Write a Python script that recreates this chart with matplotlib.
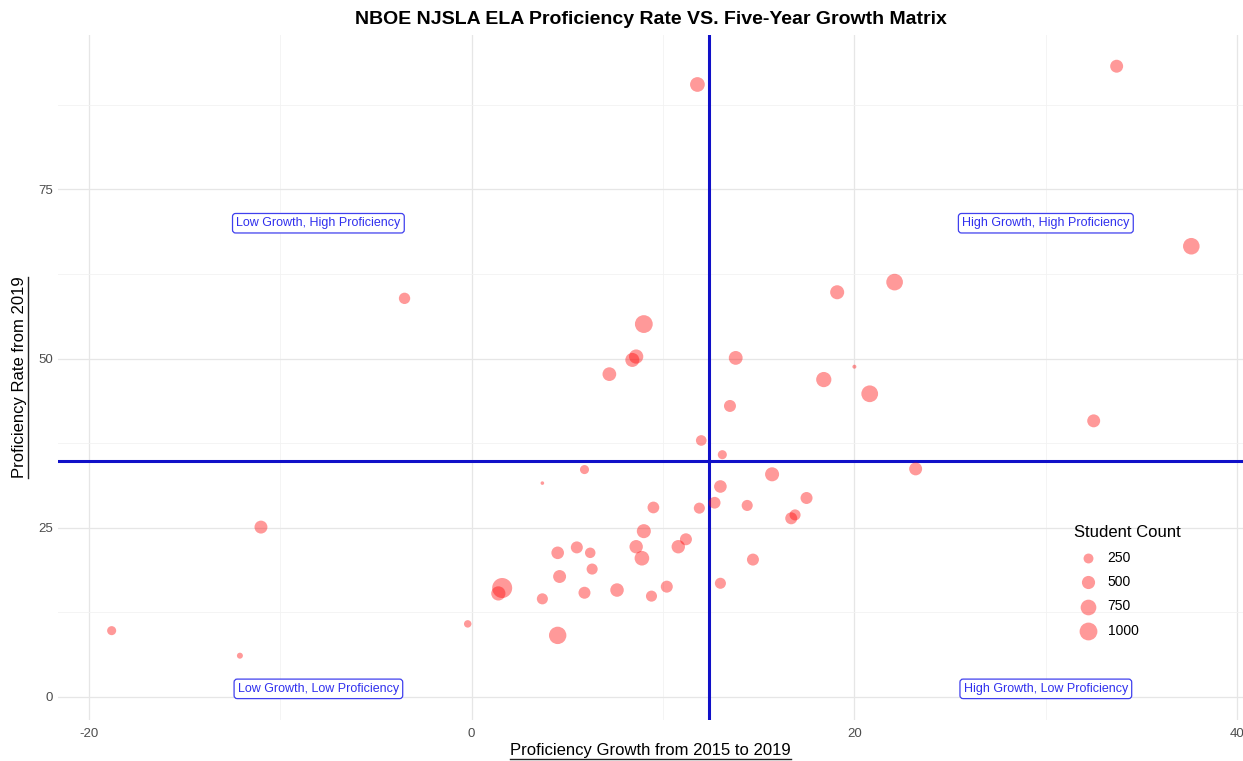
import numpy as np
import matplotlib.pyplot as plt
from matplotlib.lines import Line2D

# data
growth = [33.7, 11.8, 37.6, 22.1, 19.1, -3.5, 9.0, 8.6, 8.4, 7.2,
          13.8, 20.0, 18.4, 20.8, 13.5, 32.5, 12.0, 13.1, 5.9, 3.7,
          15.7, 23.2, 13.0, 12.7, 14.4, 9.5, 11.9, 16.7, 16.9, 9.0,
          11.2, 10.8, 8.6, 8.9, 5.5, 4.5, 6.2, 6.3, 4.6, 14.7,
          13.0, 10.2, 7.6, 5.9, 9.4, 3.7, 1.6, 1.4, -0.2, 4.5,
          17.5, -11.0, -18.8, -12.1]
proficiency = [93.2, 90.5, 66.6, 61.3, 59.8, 58.9, 55.1, 50.3, 49.8, 47.7,
               50.1, 48.8, 46.9, 44.8, 43.0, 40.8, 37.9, 35.8, 33.6, 31.6,
               32.9, 33.7, 31.1, 28.7, 28.3, 28.0, 27.9, 26.4, 26.9, 24.5,
               23.3, 22.2, 22.2, 20.5, 22.1, 21.3, 21.3, 18.9, 17.8, 20.3,
               16.8, 16.3, 15.8, 15.4, 14.9, 14.5, 16.1, 15.3, 10.8, 9.1,
               29.4, 25.1, 9.8, 6.1]
student_count = [480, 650, 850, 860, 580, 350, 1000, 600, 580, 550,
                 560, 16, 700, 870, 400, 480, 300, 200, 200, 10,
                 580, 480, 450, 380, 330, 380, 330, 400, 330, 580,
                 400, 520, 520, 640, 400, 450, 290, 330, 480, 400,
                 330, 400, 530, 400, 330, 330, 1300, 600, 120, 950,
                 400, 480, 200, 64]

growth_cut = 12.4
proficiency_cut = 34.9

legend_counts = [250, 500, 750, 1000]

quadrant_labels = ["Low Growth, High Proficiency", "High Growth, High Proficiency",
                   "Low Growth, Low Proficiency", "High Growth, Low Proficiency"]
quadrant_x = [-8, 30, -8, 30]
quadrant_y = [70, 70, 1.2, 1.2]

plt.rcParams['font.family'] = ['Liberation Sans Narrow', 'Liberation Sans', 'DejaVu Sans']
plt.rcParams['axes.unicode_minus'] = False


def marker_area(count):
    d_px = 2 + 0.5 * np.sqrt(np.asarray(count, dtype=float))
    return (d_px * 0.72) ** 2


fig = plt.figure(figsize=(12.43, 7.61), dpi=100)
ax = fig.add_axes([0.0467, 0.0539, 0.9533, 0.9])

ax.set_xlim(-21.6, 40.3)
ax.set_ylim(-3.4, 97.8)

ax.set_xticks([-20, 0, 20, 40])
ax.set_yticks([0, 25, 50, 75])
ax.set_xticks([-10, 10, 30], minor=True)
ax.set_yticks([12.5, 37.5, 62.5, 87.5], minor=True)
ax.grid(which='major', color='#e6e6e6', linewidth=0.9)
ax.grid(which='minor', color='#f2f2f2', linewidth=0.6)
ax.set_axisbelow(True)
for sp in ax.spines.values():
    sp.set_visible(False)
ax.tick_params(which='both', length=0, labelsize=9.5, labelcolor='#4d4d4d')
ax.tick_params(axis='x', pad=6)

ax.axvline(growth_cut, color='#1010c8', linewidth=2.2, zorder=1)
ax.axhline(proficiency_cut, color='#1010c8', linewidth=2.2, zorder=1)

ax.scatter(growth, proficiency, s=marker_area(student_count), color='red',
           alpha=0.4, linewidths=0, zorder=3)

for lab, x, y in zip(quadrant_labels, quadrant_x, quadrant_y):
    ax.text(x, y, lab, ha='center', va='center', fontsize=9, color='#3030ee',
            bbox=dict(boxstyle='round,pad=0.3,rounding_size=0.25', fc='white',
                      ec='#4040ee', lw=0.9), zorder=4)

handles = [ax.scatter([], [], s=marker_area(c), color='red', alpha=0.4,
                      linewidths=0) for c in legend_counts]
leg = ax.legend(handles, [str(c) for c in legend_counts], title='Student Count',
                loc='upper left', bbox_to_anchor=(0.853, 0.2925), frameon=False,
                fontsize=10, title_fontsize=12, labelspacing=0.75,
                handletextpad=0.4, borderaxespad=0)
leg._legend_box.align = 'left'

ax.set_title('NBOE NJSLA ELA Proficiency Rate VS. Five-Year Growth Matrix',
             fontsize=14, fontweight='bold', pad=8)
ax.set_xlabel('Proficiency Growth from 2015 to 2019', fontsize=12, labelpad=2)
ax.set_ylabel('Proficiency Rate from 2019', fontsize=12, labelpad=8)

# underline the axis titles
fig.canvas.draw()
inv = fig.transFigure.inverted()
for lab, horiz in [(ax.xaxis.label, True), (ax.yaxis.label, False)]:
    bb = lab.get_window_extent()
    if horiz:
        p0 = inv.transform((bb.x0, bb.y0 - 1))
        p1 = inv.transform((bb.x1, bb.y0 - 1))
    else:
        p0 = inv.transform((bb.x1 + 1, bb.y0))
        p1 = inv.transform((bb.x1 + 1, bb.y1))
    fig.add_artist(Line2D([p0[0], p1[0]], [p0[1], p1[1]], color='#222222',
                          linewidth=1.0, transform=fig.transFigure))

fig.savefig('out.png', dpi=100)
